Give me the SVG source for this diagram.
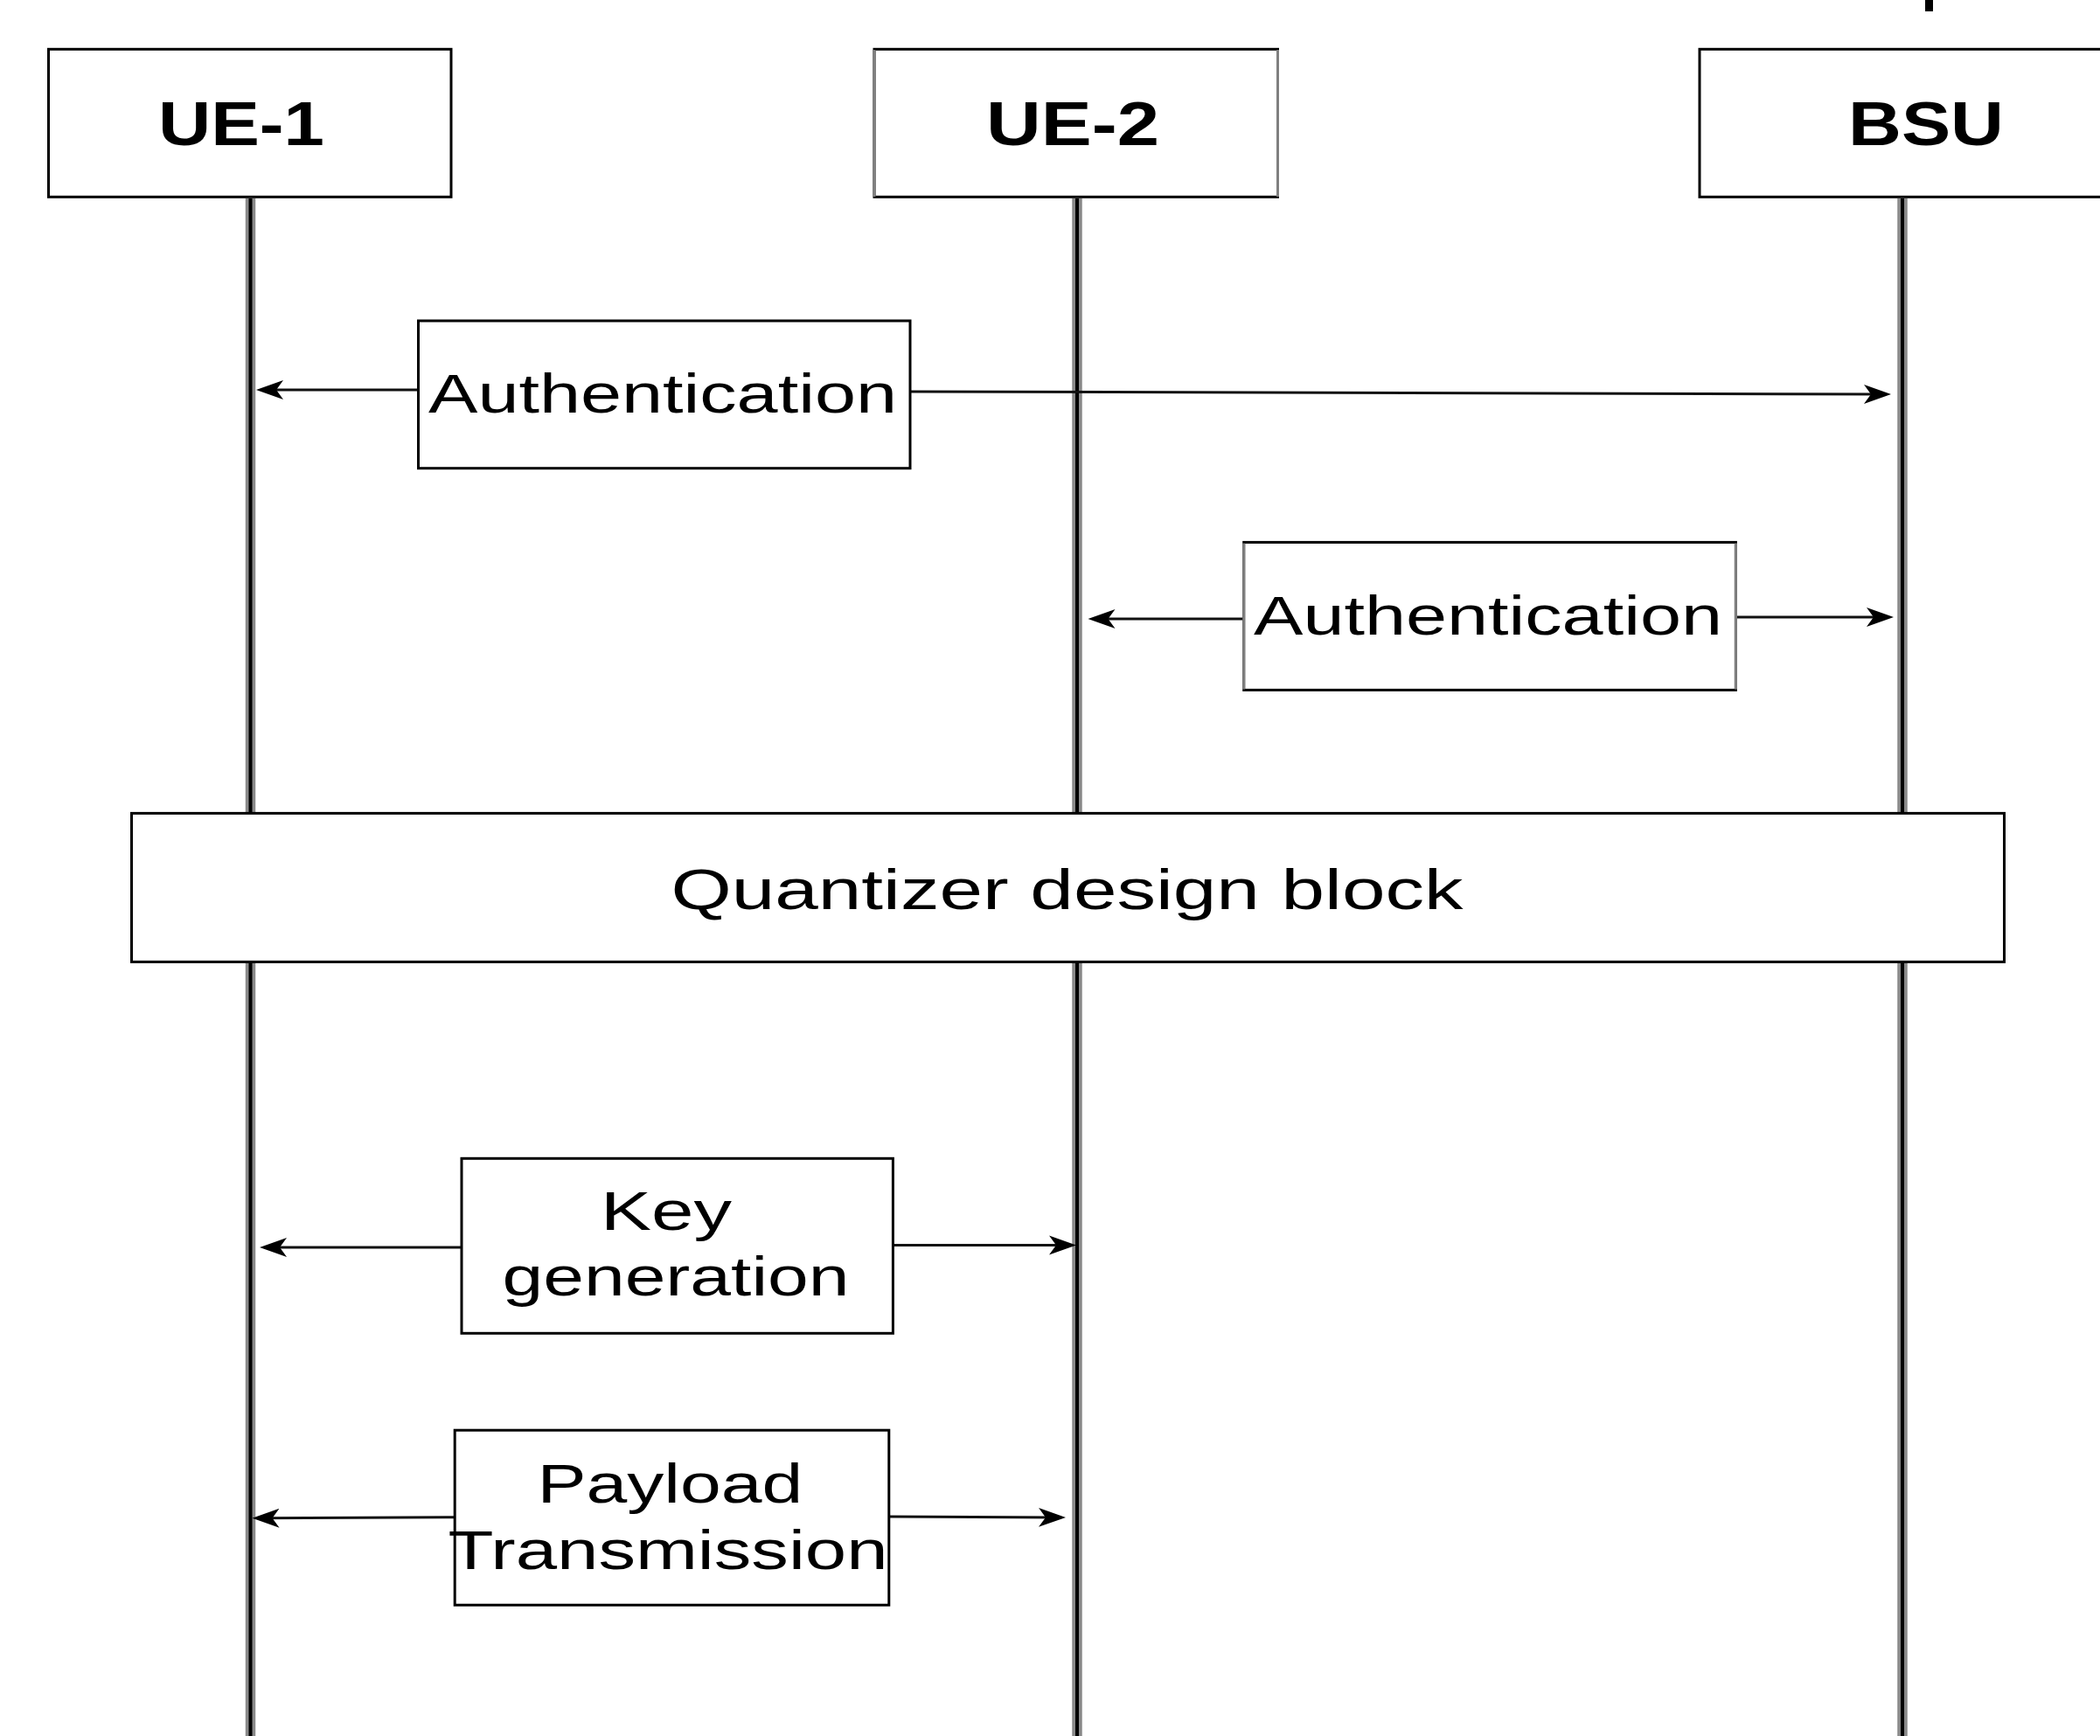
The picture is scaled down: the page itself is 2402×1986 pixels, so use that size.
<svg xmlns="http://www.w3.org/2000/svg" width="2402" height="1986" viewBox="0 0 2402 1986">
<style>
.box{fill:#fff;stroke:#000;stroke-width:3}
.gedge{stroke:#808080;stroke-width:3}
.lo{stroke:#8a8a8a;stroke-width:11.5;fill:none}
.li{stroke:#000;stroke-width:4;fill:none}
.msg{stroke:#111;stroke-width:3;fill:none;marker-end:url(#arr)}
.t{font-family:"Liberation Sans",Arial,Helvetica,sans-serif;font-size:63px;fill:#000;text-anchor:middle}
.h{font-family:"Liberation Sans",Arial,Helvetica,sans-serif;font-size:70px;font-weight:bold;fill:#000;text-anchor:middle}
</style>
<defs>
<marker id="arr" markerUnits="userSpaceOnUse" markerWidth="34" markerHeight="26" viewBox="0 0 34 26" refX="21" refY="13" orient="auto">
<path d="M0,2 L31,13 L0,24 L8,13 Z" fill="#000"/>
</marker>
</defs>
<rect x="0" y="0" width="2402" height="1986" fill="#fff"/>
<rect x="2202" y="0" width="9" height="13" fill="#000"/>

<g id="lifelines">
<line class="lo" x1="286.5" y1="227" x2="286.5" y2="1986"/>
<line class="li" x1="286.5" y1="227" x2="286.5" y2="1986"/>
<line class="lo" x1="1232" y1="227" x2="1232" y2="1986"/>
<line class="li" x1="1232" y1="227" x2="1232" y2="1986"/>
<line class="lo" x1="2176" y1="227" x2="2176" y2="1986"/>
<line class="li" x1="2176" y1="227" x2="2176" y2="1986"/>
</g>

<g id="connectors">
<line class="msg" x1="478.5" y1="446" x2="303" y2="446"/>
<line class="msg" x1="1041" y1="448" x2="2153" y2="451"/>
<line class="msg" x1="1422.7" y1="708" x2="1254.5" y2="708"/>
<line class="msg" x1="1985.4" y1="706" x2="2156" y2="706"/>
<line class="msg" x1="528" y1="1427" x2="307" y2="1427"/>
<line class="msg" x1="1021.4" y1="1424.5" x2="1221" y2="1424.5"/>
<line class="msg" x1="520" y1="1735.7" x2="298.5" y2="1736.8"/>
<line class="msg" x1="1017" y1="1735" x2="1209" y2="1736"/>
</g>

<g id="ue1">
<rect class="box" x="55.5" y="56.3" width="460.5" height="169"/>
<text class="h" x="276" y="166" textLength="190" lengthAdjust="spacingAndGlyphs">UE-1</text>
</g>
<g id="ue2">
<rect class="box" x="1000" y="56.3" width="461.5" height="169"/>
<line class="gedge" x1="1000" y1="57" x2="1000" y2="225"/>
<line class="gedge" x1="1461.5" y1="57" x2="1461.5" y2="225"/>
<text class="h" x="1227" y="166" textLength="198" lengthAdjust="spacingAndGlyphs">UE-2</text>
</g>
<g id="bsu">
<rect class="box" x="1944" y="56.3" width="470" height="169"/>
<text class="h" x="2203" y="166" textLength="178" lengthAdjust="spacingAndGlyphs">BSU</text>
</g>

<g id="auth1">
<rect class="box" x="478.5" y="367" width="562.5" height="168.7"/>
<text class="t" x="758" y="472" textLength="536" lengthAdjust="spacingAndGlyphs">Authentication</text>
</g>
<g id="auth2">
<rect class="box" x="1422.7" y="620.4" width="562.7" height="169"/>
<line class="gedge" x1="1422.7" y1="621.5" x2="1422.7" y2="788.5"/>
<line class="gedge" x1="1985.4" y1="621.5" x2="1985.4" y2="788.5"/>
<text class="t" x="1702" y="726" textLength="536" lengthAdjust="spacingAndGlyphs">Authentication</text>
</g>
<g id="quantizer">
<rect class="box" x="150.5" y="930.4" width="2142" height="170"/>
<text class="t" x="1220.5" y="1040" style="font-size:65px" textLength="906" lengthAdjust="spacingAndGlyphs">Quantizer design block</text>
</g>
<g id="keygen">
<rect class="box" x="528" y="1325.3" width="493.4" height="200"/>
<text class="t" x="762" y="1406.5" textLength="150" lengthAdjust="spacingAndGlyphs">Key</text>
<text class="t" x="773" y="1482.3" textLength="397" lengthAdjust="spacingAndGlyphs">generation</text>
</g>
<g id="payload">
<rect class="box" x="520.2" y="1636.2" width="496.6" height="200"/>
<text class="t" x="766.4" y="1719" textLength="304" lengthAdjust="spacingAndGlyphs">Payload</text>
<text class="t" x="764" y="1795" textLength="503" lengthAdjust="spacingAndGlyphs">Transmission</text>
</g>
</svg>
